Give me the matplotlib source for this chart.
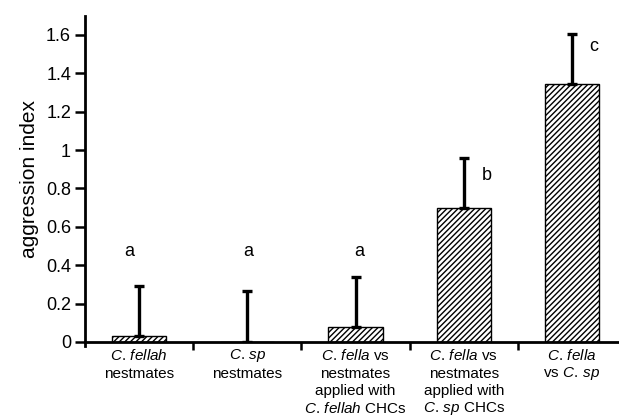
import numpy as np
import matplotlib.pyplot as plt
from matplotlib.transforms import blended_transform_factory

plt.rcParams['font.family'] = ['Liberation Sans', 'DejaVu Sans']
plt.rcParams['mathtext.fontset'] = 'custom'
plt.rcParams['mathtext.it'] = 'Liberation Sans:italic'
plt.rcParams['mathtext.rm'] = 'Liberation Sans'
plt.rcParams['hatch.linewidth'] = 1.0
plt.rcParams['hatch.color'] = '#444444'

# data
categories = [
    [r'$\mathit{C.\,fellah}$', 'nestmates'],
    [r'$\mathit{C.\,sp}$', 'nestmates'],
    [r'$\mathit{C.\,fella}$ vs', 'nestmates', 'applied with', r'$\mathit{C.\,fellah}$ CHCs'],
    [r'$\mathit{C.\,fella}$ vs', 'nestmates', 'applied with', r'$\mathit{C.\,sp}$ CHCs'],
    [r'$\mathit{C.\,fella}$', r'vs $\mathit{C.\,sp}$'],
]
means = [0.03, 0.0, 0.08, 0.70, 1.345]
err_top = [0.29, 0.265, 0.34, 0.96, 1.605]
letters = ['a', 'a', 'a', 'b', 'c']
letter_y = [0.47, 0.47, 0.47, 0.87, 1.54]
letter_dx = [-0.09, 0.01, 0.03, 0.21, 0.2]

fig = plt.figure(figsize=(6.19, 4.16), dpi=100)
ax = fig.add_axes([85 / 619, 0.178, 534 / 619, 0.784])

x = np.arange(len(means))
yerr = np.array(err_top) - np.array(means)
ax.bar(x, means, width=0.5, color='white', edgecolor='black', linewidth=1.0,
       hatch='//////', zorder=2)
ax.errorbar(x, means, yerr=[np.zeros_like(yerr), yerr], fmt='none', ecolor='black',
            elinewidth=2.4, capsize=3.5, capthick=2.4, zorder=3)

for xi, s, ly, dx in zip(x, letters, letter_y, letter_dx):
    ax.text(xi + dx, ly, s, ha='center', va='center', fontsize=13)

ax.set_xlim(-0.5, 4.435)
ax.set_ylim(0, 1.7)
ax.set_yticks([0, 0.2, 0.4, 0.6, 0.8, 1, 1.2, 1.4, 1.6])
ax.set_yticklabels(['0', '0.2', '0.4', '0.6', '0.8', '1', '1.2', '1.4', '1.6'])
ax.tick_params(axis='y', labelsize=13, width=1.8, length=7, direction='out', pad=3)
ax.set_ylabel('aggression index', fontsize=15, labelpad=5)

ax.set_xticks([0.5, 1.5, 2.5, 3.5])
ax.set_xticklabels([])
ax.tick_params(axis='x', width=1.8, length=6, direction='out')

trans = blended_transform_factory(ax.transData, ax.transAxes)
for xi, lines in zip(x, categories):
    for j, line in enumerate(lines):
        ax.text(xi, -0.043 - j * 0.054, line, transform=trans, ha='center', va='center',
                fontsize=11)

for side in ['top', 'right']:
    ax.spines[side].set_visible(False)
ax.spines['left'].set_linewidth(2)
ax.spines['bottom'].set_linewidth(2)
ax.spines['left'].set_bounds(-0.02, 1.7)

fig.savefig('out.png', dpi=100)
